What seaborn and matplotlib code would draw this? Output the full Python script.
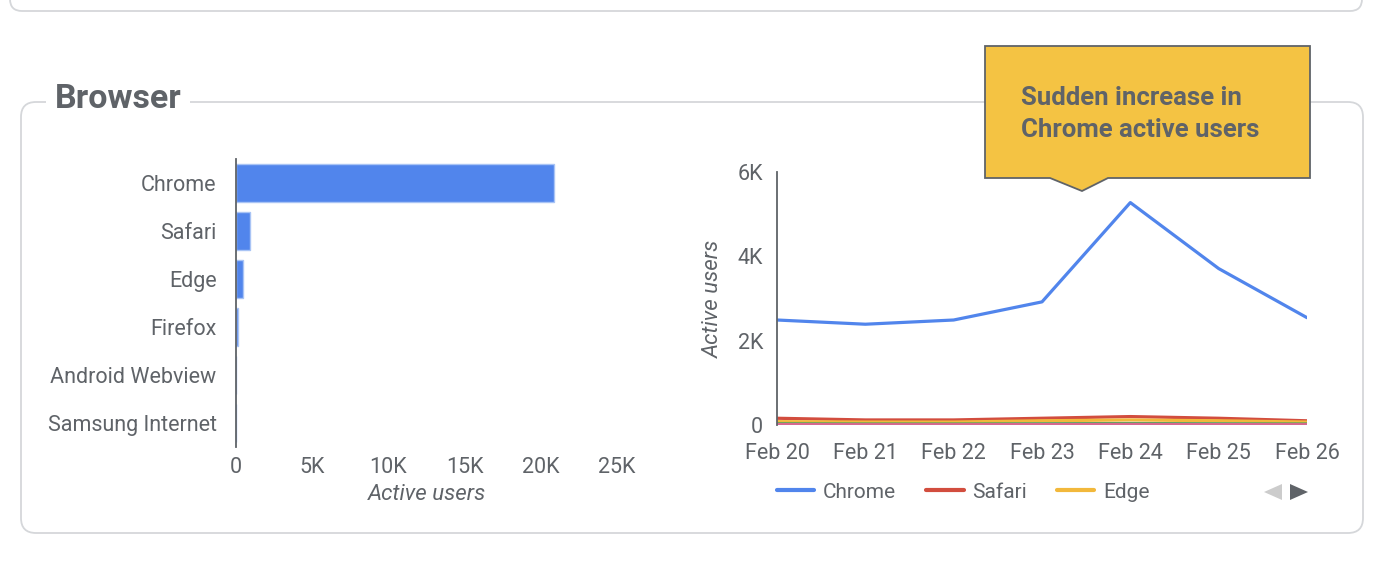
import numpy as np
import pandas as pd
import matplotlib
matplotlib.use('Agg')
import matplotlib.pyplot as plt
import seaborn as sns
from matplotlib.patches import FancyBboxPatch, Polygon, Rectangle
from matplotlib.ticker import FuncFormatter

# data
browsers = ['Chrome', 'Safari', 'Edge', 'Firefox', 'Android Webview', 'Samsung Internet']
active_users = [20850, 920, 460, 130, 15, 8]

days = ['Feb 20', 'Feb 21', 'Feb 22', 'Feb 23', 'Feb 24', 'Feb 25', 'Feb 26']
chrome_daily = [2490, 2390, 2490, 2920, 5275, 3710, 2545]
safari_daily = [160, 120, 120, 160, 200, 160, 100]
edge_daily = [80, 70, 70, 100, 120, 100, 70]
firefox_daily = [30, 25, 25, 30, 35, 30, 25]
webview_daily = [10, 8, 8, 10, 12, 10, 8]

line_series = ['Chrome', 'Safari', 'Edge', 'Firefox', 'Android Webview']
line_colors = ['#5185ec', '#d24d3e', '#f2b83b', '#5aa55e', '#d6688f']

daily = pd.concat([
    pd.DataFrame({'day': days, 'browser': name, 'users': vals})
    for name, vals in zip(line_series, [chrome_daily, safari_daily, edge_daily,
                                        firefox_daily, webview_daily])
])

sns.set_theme(style='white')
plt.rcParams['font.family'] = ['Roboto', 'DejaVu Sans']
grey = '#5f6368'
tick_size = 15.5

W, H = 1386, 562
fig = plt.figure(figsize=(W / 100, H / 100), dpi=100)

def px_axes(left, top, right, bottom, **kw):
    return fig.add_axes([left / W, 1 - bottom / H, (right - left) / W, (bottom - top) / H], **kw)

def k_fmt(v, p):
    return '0' if v == 0 else f'{int(v / 1000)}K'

# background panel
bg = px_axes(0, 0, W, H, zorder=0)
bg.set_xlim(0, W)
bg.set_ylim(H, 0)
bg.axis('off')
bg.add_patch(FancyBboxPatch((10, -30), 1352, 41, boxstyle='round,pad=0,rounding_size=12',
                            fc='white', ec='#d5d7da', lw=1.3))
bg.add_patch(FancyBboxPatch((21, 102), 1342, 431, boxstyle='round,pad=0,rounding_size=15',
                            fc='white', ec='#d5d7da', lw=1.3))
bg.add_patch(Rectangle((46, 90), 144, 24, fc='white', ec='none'))
bg.text(55, 99, 'Browser', fontsize=24.5, fontweight='bold', color=grey, va='center', ha='left')

# bar chart
ax1 = px_axes(236, 159, 617, 447, zorder=2)
ax1.patch.set_alpha(0)
sns.barplot(x=active_users, y=browsers, orient='h', color='#5185ec', saturation=1,
            edgecolor='#a9c4f5', linewidth=1, width=0.8, ax=ax1)
ax1.set_xlim(0, 25000)
ax1.set_xticks([0, 5000, 10000, 15000, 20000, 25000])
ax1.xaxis.set_major_formatter(FuncFormatter(k_fmt))
for s in ['top', 'right', 'bottom']:
    ax1.spines[s].set_visible(False)
ax1.spines['left'].set_color(grey)
ax1.spines['left'].set_linewidth(1.3)
ax1.tick_params(axis='both', length=0, colors=grey, labelsize=tick_size)
ax1.tick_params(axis='y', pad=14)
ax1.tick_params(axis='x', pad=7)
ax1.set_xlabel('Active users', fontsize=16, style='italic', color=grey)
ax1.xaxis.set_label_coords(0.5, -0.128)
ax1.set_ylabel('')

# line chart
ax2 = px_axes(777, 172, 1307, 425, zorder=2)
ax2.patch.set_alpha(0)
sns.lineplot(data=daily, x='day', y='users', hue='browser', hue_order=line_series,
             palette=line_colors, linewidth=2.3, sort=False, ax=ax2)
ax2.set_xlim(0, 6)
ax2.set_ylim(0, 6000)
ax2.set_yticks([0, 2000, 4000, 6000])
ax2.yaxis.set_major_formatter(FuncFormatter(k_fmt))
for s in ['top', 'right', 'bottom']:
    ax2.spines[s].set_visible(False)
ax2.spines['left'].set_color(grey)
ax2.spines['left'].set_linewidth(1.3)
ax2.tick_params(axis='both', length=0, colors=grey, labelsize=tick_size)
ax2.tick_params(axis='y', pad=10)
ax2.tick_params(axis='x', pad=13)
ax2.set_xlabel('')
ax2.set_ylabel('Active users', fontsize=16, style='italic', color=grey)
ax2.yaxis.set_label_coords(-0.1, 0.5)

handles, labels = ax2.get_legend_handles_labels()
ax2.legend(handles[:3], labels[:3], loc='center left', bbox_to_anchor=(777 / W, 1 - 492 / H),
           bbox_transform=fig.transFigure, ncol=3, frameon=False, fontsize=15,
           handlelength=1.8, handletextpad=0.4, columnspacing=1.45, borderpad=0,
           borderaxespad=0, labelcolor=grey)
for h in ax2.get_legend().legend_handles:
    h.set_linewidth(3)

# overlay: annotation and legend arrows
fg = px_axes(0, 0, W, H, zorder=5)
fg.set_xlim(0, W)
fg.set_ylim(H, 0)
fg.axis('off')
fg.patch.set_alpha(0)
fg.add_patch(Polygon([(985, 46), (1310, 46), (1310, 178), (1108, 178), (1082, 191),
                      (1050, 178), (985, 178)], closed=True, fc='#f4c343', ec=grey, lw=1.3))
fg.text(1021, 114, 'Sudden increase in\nChrome active users', fontsize=18.5, fontweight='bold',
        color=grey, ha='left', va='center', linespacing=1.38)
fg.add_patch(Polygon([(1282, 484), (1282, 500), (1264, 492)], closed=True, fc='#cccccc', ec='none'))
fg.add_patch(Polygon([(1290, 484), (1290, 500), (1308, 492)], closed=True, fc='#5f6368', ec='none'))

fig.savefig('out.png', dpi=100)
